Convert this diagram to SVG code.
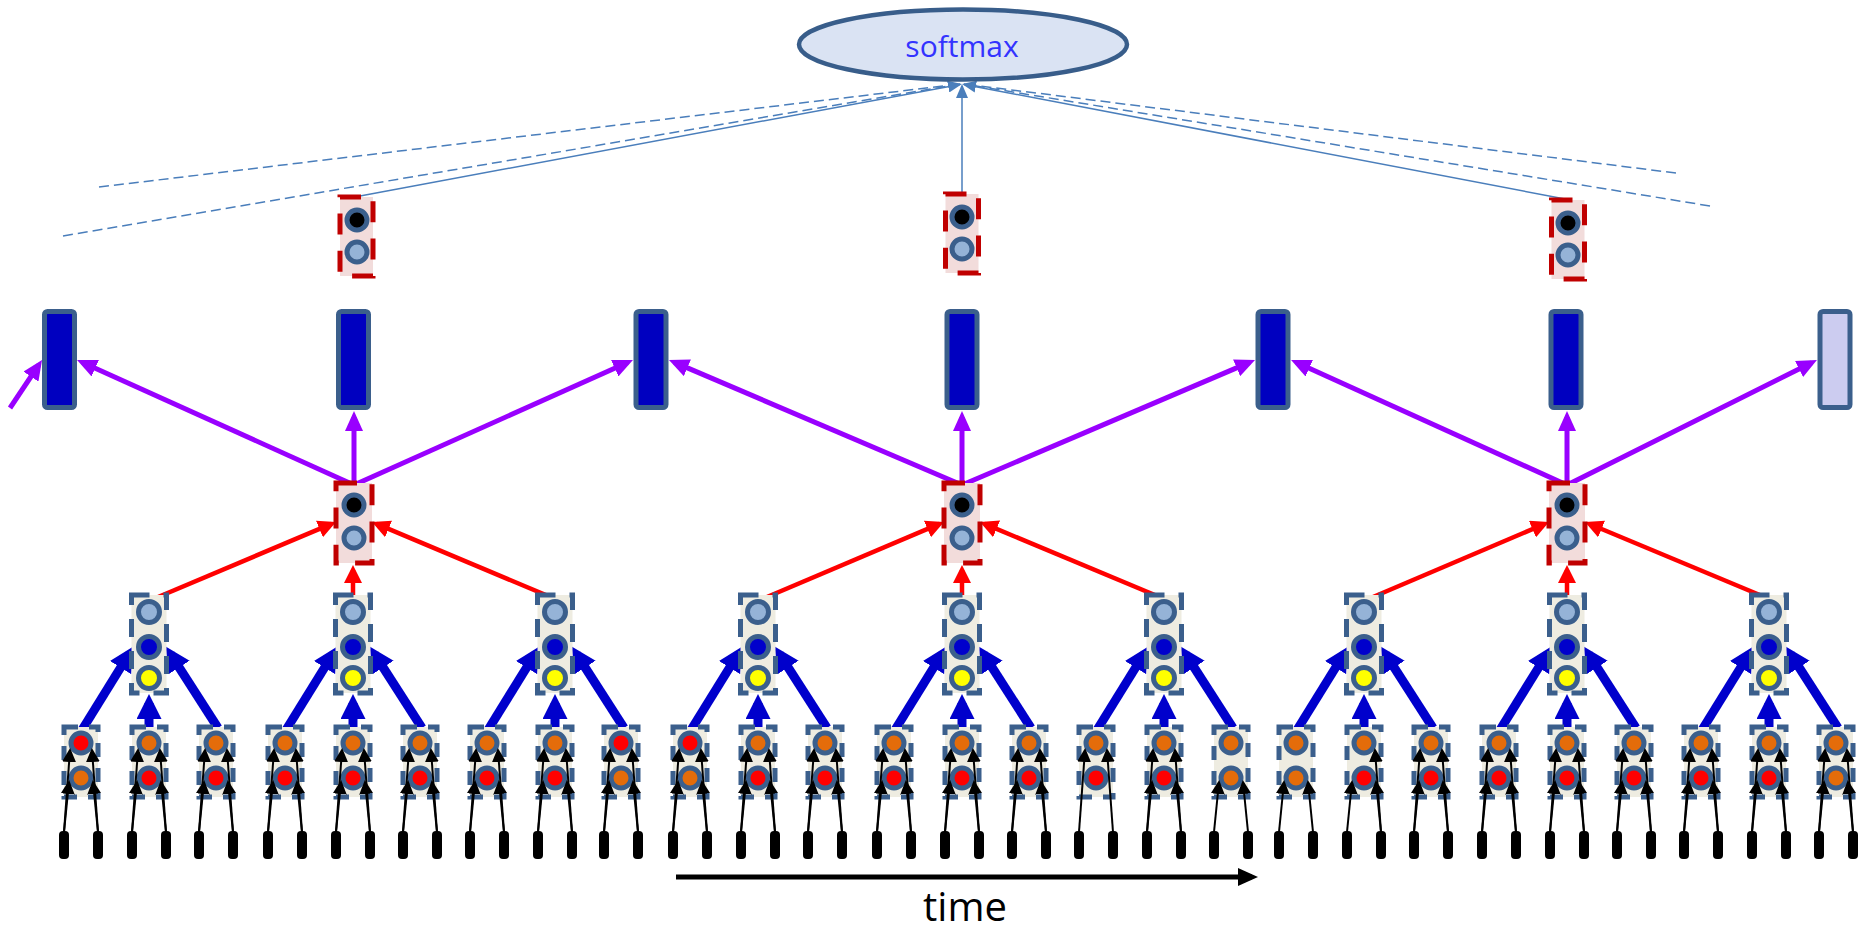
<svg xmlns="http://www.w3.org/2000/svg" width="1866" height="933" viewBox="0 0 1866 933">
<style>
.b1{fill:#eeece1;stroke:#3b5f8c;stroke-width:5;stroke-dasharray:14 11}
.b2{fill:#eeece1;stroke:#3b5f8c;stroke-width:5;stroke-dasharray:18 14}
.pk{fill:#f2dcdb;stroke:#c00000;stroke-width:5;stroke-dasharray:21 16.3}
.c{stroke:#3b5f8c;stroke-width:5}
.or{fill:#e46c0a}.rd{fill:#ff0000}.lb{fill:#95b3d7}.db{fill:#0000cc}.ye{fill:#ffff00}.bk{fill:#000}
.bar{fill:#000}
.rb{fill:#0000c0;stroke:#3b5f8c;stroke-width:5}
.rl{fill:#ccccf0;stroke:#3b5f8c;stroke-width:5}
.ak{stroke:#000;stroke-width:2;marker-end:url(#mk)}
.ab{stroke:#0000cc;stroke-width:9;marker-end:url(#mb)}
.ar{stroke:#ff0000;stroke-width:4.5;marker-end:url(#mr)}
.ap{stroke:#9900ff;stroke-width:5;marker-end:url(#mp)}
.as{stroke:#4a7ebb;stroke-width:1.5;marker-end:url(#ms)}
.ad{stroke:#4a7ebb;stroke-width:1.5;stroke-dasharray:10 5;fill:none}
.at{stroke:#000;stroke-width:5;marker-end:url(#mt)}
</style>
<defs>
<marker id="mk" markerUnits="userSpaceOnUse" viewBox="0 0 14 14" markerWidth="14" markerHeight="14" refX="12" refY="7" orient="auto"><path d="M0,0 L14,7 L0,14 z" fill="#000"/></marker>
<marker id="mb" markerUnits="userSpaceOnUse" viewBox="0 0 25 25" markerWidth="25" markerHeight="25" refX="16" refY="12.5" orient="auto"><path d="M0,0 L25,12.5 L0,25 z" fill="#0000cc"/></marker>
<marker id="mr" markerUnits="userSpaceOnUse" viewBox="0 0 18 18" markerWidth="18" markerHeight="18" refX="13" refY="9" orient="auto"><path d="M0,0 L18,9 L0,18 z" fill="#ff0000"/></marker>
<marker id="mp" markerUnits="userSpaceOnUse" viewBox="0 0 20 18" markerWidth="20" markerHeight="18" refX="14" refY="9" orient="auto"><path d="M0,0 L20,9 L0,18 z" fill="#9900ff"/></marker>
<marker id="ms" markerUnits="userSpaceOnUse" viewBox="0 0 14 12" markerWidth="14" markerHeight="12" refX="12" refY="6" orient="auto"><path d="M0,0 L14,6 L0,12 z" fill="#4a7ebb"/></marker>
<marker id="mt" markerUnits="userSpaceOnUse" viewBox="0 0 20 18" markerWidth="20" markerHeight="18" refX="14" refY="9" orient="auto"><path d="M0,0 L20,9 L0,18 z" fill="#000"/></marker>
</defs>
<rect width="1866" height="933" fill="#fff"/>

<g id="connectors">
  <line class="ad" x1="99" y1="187" x2="960" y2="84"/>
  <line class="ad" x1="63" y1="236" x2="960" y2="84"/>
  <line class="ad" x1="1676" y1="173" x2="964" y2="84"/>
  <line class="ad" x1="1710" y1="206" x2="964" y2="84"/>
  <line class="as" x1="360" y1="196" x2="960" y2="84.4"/>
  <line class="as" x1="962" y1="194" x2="962" y2="86"/>
  <line class="as" x1="1565" y1="199" x2="964" y2="84.4"/>
  <line class="ap" x1="10" y1="408" x2="38.7" y2="365"/>
  <line class="ap" x1="354" y1="485" x2="82.5" y2="362.5"/>
  <line class="ap" x1="354" y1="485" x2="354" y2="417"/>
  <line class="ap" x1="354" y1="485" x2="627.5" y2="362.5"/>
  <line class="ap" x1="962" y1="485" x2="674.5" y2="362.4"/>
  <line class="ap" x1="962" y1="485" x2="962" y2="417"/>
  <line class="ap" x1="962" y1="485" x2="1249.5" y2="362.4"/>
  <line class="ap" x1="1567" y1="485" x2="1296.5" y2="362.5"/>
  <line class="ap" x1="1567" y1="485" x2="1567" y2="417"/>
  <line class="ap" x1="1567" y1="485" x2="1811.6" y2="362.7"/>
  <line class="ar" x1="151" y1="600" x2="331.4" y2="523.9"/>
  <line class="ar" x1="353" y1="597" x2="353" y2="570"/>
  <line class="ar" x1="553" y1="598" x2="376.6" y2="523.9"/>
  <line class="ar" x1="760" y1="600" x2="939.4" y2="523.9"/>
  <line class="ar" x1="962" y1="597" x2="962" y2="570"/>
  <line class="ar" x1="1162" y1="598" x2="984.6" y2="523.9"/>
  <line class="ar" x1="1366" y1="600" x2="1544.4" y2="524"/>
  <line class="ar" x1="1567" y1="597" x2="1567" y2="570"/>
  <line class="ar" x1="1767" y1="598" x2="1589.6" y2="524"/>
  <g class="ab" transform="translate(149 0)"><line x1="-72" y1="738" x2="-20" y2="654"/><line x1="0" y1="727" x2="0" y2="703"/><line x1="69" y1="728" x2="21.5" y2="654"/></g>
  <g class="ab" transform="translate(353 0)"><line x1="-72" y1="738" x2="-20" y2="654"/><line x1="0" y1="727" x2="0" y2="703"/><line x1="69" y1="728" x2="21.5" y2="654"/></g>
  <g class="ab" transform="translate(555 0)"><line x1="-72" y1="738" x2="-20" y2="654"/><line x1="0" y1="727" x2="0" y2="703"/><line x1="69" y1="728" x2="21.5" y2="654"/></g>
  <g class="ab" transform="translate(758 0)"><line x1="-72" y1="738" x2="-20" y2="654"/><line x1="0" y1="727" x2="0" y2="703"/><line x1="69" y1="728" x2="21.5" y2="654"/></g>
  <g class="ab" transform="translate(962 0)"><line x1="-72" y1="738" x2="-20" y2="654"/><line x1="0" y1="727" x2="0" y2="703"/><line x1="69" y1="728" x2="21.5" y2="654"/></g>
  <g class="ab" transform="translate(1164 0)"><line x1="-72" y1="738" x2="-20" y2="654"/><line x1="0" y1="727" x2="0" y2="703"/><line x1="69" y1="728" x2="21.5" y2="654"/></g>
  <g class="ab" transform="translate(1364 0)"><line x1="-72" y1="738" x2="-20" y2="654"/><line x1="0" y1="727" x2="0" y2="703"/><line x1="69" y1="728" x2="21.5" y2="654"/></g>
  <g class="ab" transform="translate(1567 0)"><line x1="-72" y1="738" x2="-20" y2="654"/><line x1="0" y1="727" x2="0" y2="703"/><line x1="69" y1="728" x2="21.5" y2="654"/></g>
  <g class="ab" transform="translate(1769 0)"><line x1="-72" y1="738" x2="-20" y2="654"/><line x1="0" y1="727" x2="0" y2="703"/><line x1="69" y1="728" x2="21.5" y2="654"/></g>
  <line class="at" x1="676" y1="877" x2="1252" y2="877"/>
</g>

<g id="softmax">
  <ellipse cx="963" cy="44.5" rx="164" ry="35" fill="#dae3f3" stroke="#385d8a" stroke-width="4.5"/>
  <text x="962" y="57" text-anchor="middle" font-family="'Open Sans', 'Liberation Sans', sans-serif" font-size="30" fill="#3333ff">softmax</text>
</g>

<g id="top1"><rect class="pk" x="340" y="197" width="33" height="79"/><circle class="c bk" cx="357" cy="220" r="10"/><circle class="c lb" cx="357" cy="252" r="10"/></g>
<g id="top2"><rect class="pk" x="945.5" y="194" width="33" height="79"/><circle class="c bk" cx="962" cy="217" r="10"/><circle class="c lb" cx="962" cy="249" r="10"/></g>
<g id="top3"><rect class="pk" x="1551.5" y="200" width="33" height="79"/><circle class="c bk" cx="1568" cy="223" r="10"/><circle class="c lb" cx="1568" cy="255" r="10"/></g>

<g id="r1"><rect class="rb" x="44.5" y="311.5" width="30" height="96" rx="3"/></g>
<g id="r2"><rect class="rb" x="338.5" y="311.5" width="30" height="96" rx="3"/></g>
<g id="r3"><rect class="rb" x="636" y="311.5" width="30" height="96" rx="3"/></g>
<g id="r4"><rect class="rb" x="947" y="311.5" width="30" height="96" rx="3"/></g>
<g id="r5"><rect class="rb" x="1258" y="311.5" width="30" height="96" rx="3"/></g>
<g id="r6"><rect class="rb" x="1551" y="311.5" width="30" height="96" rx="3"/></g>
<g id="r7"><rect class="rl" x="1820" y="311.5" width="30" height="96" rx="3"/></g>

<g id="mid1"><rect class="pk" x="336" y="483" width="36" height="80"/><circle class="c bk" cx="354" cy="505" r="10"/><circle class="c lb" cx="354" cy="538" r="10"/></g>
<g id="mid2"><rect class="pk" x="944" y="483" width="36" height="80"/><circle class="c bk" cx="962" cy="505" r="10"/><circle class="c lb" cx="962" cy="538" r="10"/></g>
<g id="mid3"><rect class="pk" x="1549" y="483" width="36" height="80"/><circle class="c bk" cx="1567" cy="505" r="10"/><circle class="c lb" cx="1567" cy="538" r="10"/></g>

<g id="l2_1" transform="translate(149 0)"><rect class="b2" x="-17.5" y="595" width="35" height="98"/><circle class="c lb" cx="0" cy="612" r="10.5"/><circle class="c db" cx="0" cy="647" r="10.5"/><circle class="c ye" cx="0" cy="678" r="10.5"/></g>
<g id="l2_2" transform="translate(353 0)"><rect class="b2" x="-17.5" y="595" width="35" height="98"/><circle class="c lb" cx="0" cy="612" r="10.5"/><circle class="c db" cx="0" cy="647" r="10.5"/><circle class="c ye" cx="0" cy="678" r="10.5"/></g>
<g id="l2_3" transform="translate(555 0)"><rect class="b2" x="-17.5" y="595" width="35" height="98"/><circle class="c lb" cx="0" cy="612" r="10.5"/><circle class="c db" cx="0" cy="647" r="10.5"/><circle class="c ye" cx="0" cy="678" r="10.5"/></g>
<g id="l2_4" transform="translate(758 0)"><rect class="b2" x="-17.5" y="595" width="35" height="98"/><circle class="c lb" cx="0" cy="612" r="10.5"/><circle class="c db" cx="0" cy="647" r="10.5"/><circle class="c ye" cx="0" cy="678" r="10.5"/></g>
<g id="l2_5" transform="translate(962 0)"><rect class="b2" x="-17.5" y="595" width="35" height="98"/><circle class="c lb" cx="0" cy="612" r="10.5"/><circle class="c db" cx="0" cy="647" r="10.5"/><circle class="c ye" cx="0" cy="678" r="10.5"/></g>
<g id="l2_6" transform="translate(1164 0)"><rect class="b2" x="-17.5" y="595" width="35" height="98"/><circle class="c lb" cx="0" cy="612" r="10.5"/><circle class="c db" cx="0" cy="647" r="10.5"/><circle class="c ye" cx="0" cy="678" r="10.5"/></g>
<g id="l2_7" transform="translate(1364 0)"><rect class="b2" x="-17.5" y="595" width="35" height="98"/><circle class="c lb" cx="0" cy="612" r="10.5"/><circle class="c db" cx="0" cy="647" r="10.5"/><circle class="c ye" cx="0" cy="678" r="10.5"/></g>
<g id="l2_8" transform="translate(1567 0)"><rect class="b2" x="-17.5" y="595" width="35" height="98"/><circle class="c lb" cx="0" cy="612" r="10.5"/><circle class="c db" cx="0" cy="647" r="10.5"/><circle class="c ye" cx="0" cy="678" r="10.5"/></g>
<g id="l2_9" transform="translate(1769 0)"><rect class="b2" x="-17.5" y="595" width="35" height="98"/><circle class="c lb" cx="0" cy="612" r="10.5"/><circle class="c db" cx="0" cy="647" r="10.5"/><circle class="c ye" cx="0" cy="678" r="10.5"/></g>

<g id="l1_01" transform="translate(81 0)"><rect class="b1" x="-17" y="727" width="34" height="70"/><circle class="c rd" cx="0" cy="743" r="10"/><circle class="c or" cx="0" cy="778" r="10"/></g>
<g id="l1_02" transform="translate(149 0)"><rect class="b1" x="-17" y="727" width="34" height="70"/><circle class="c or" cx="0" cy="743" r="10"/><circle class="c rd" cx="0" cy="778" r="10"/></g>
<g id="l1_03" transform="translate(216 0)"><rect class="b1" x="-17" y="727" width="34" height="70"/><circle class="c or" cx="0" cy="743" r="10"/><circle class="c rd" cx="0" cy="778" r="10"/></g>
<g id="l1_04" transform="translate(285 0)"><rect class="b1" x="-17" y="727" width="34" height="70"/><circle class="c or" cx="0" cy="743" r="10"/><circle class="c rd" cx="0" cy="778" r="10"/></g>
<g id="l1_05" transform="translate(353 0)"><rect class="b1" x="-17" y="727" width="34" height="70"/><circle class="c or" cx="0" cy="743" r="10"/><circle class="c rd" cx="0" cy="778" r="10"/></g>
<g id="l1_06" transform="translate(420 0)"><rect class="b1" x="-17" y="727" width="34" height="70"/><circle class="c or" cx="0" cy="743" r="10"/><circle class="c rd" cx="0" cy="778" r="10"/></g>
<g id="l1_07" transform="translate(487 0)"><rect class="b1" x="-17" y="727" width="34" height="70"/><circle class="c or" cx="0" cy="743" r="10"/><circle class="c rd" cx="0" cy="778" r="10"/></g>
<g id="l1_08" transform="translate(555 0)"><rect class="b1" x="-17" y="727" width="34" height="70"/><circle class="c or" cx="0" cy="743" r="10"/><circle class="c rd" cx="0" cy="778" r="10"/></g>
<g id="l1_09" transform="translate(621 0)"><rect class="b1" x="-17" y="727" width="34" height="70"/><circle class="c rd" cx="0" cy="743" r="10"/><circle class="c or" cx="0" cy="778" r="10"/></g>
<g id="l1_10" transform="translate(690 0)"><rect class="b1" x="-17" y="727" width="34" height="70"/><circle class="c rd" cx="0" cy="743" r="10"/><circle class="c or" cx="0" cy="778" r="10"/></g>
<g id="l1_11" transform="translate(758 0)"><rect class="b1" x="-17" y="727" width="34" height="70"/><circle class="c or" cx="0" cy="743" r="10"/><circle class="c rd" cx="0" cy="778" r="10"/></g>
<g id="l1_12" transform="translate(825 0)"><rect class="b1" x="-17" y="727" width="34" height="70"/><circle class="c or" cx="0" cy="743" r="10"/><circle class="c rd" cx="0" cy="778" r="10"/></g>
<g id="l1_13" transform="translate(894 0)"><rect class="b1" x="-17" y="727" width="34" height="70"/><circle class="c or" cx="0" cy="743" r="10"/><circle class="c rd" cx="0" cy="778" r="10"/></g>
<g id="l1_14" transform="translate(962 0)"><rect class="b1" x="-17" y="727" width="34" height="70"/><circle class="c or" cx="0" cy="743" r="10"/><circle class="c rd" cx="0" cy="778" r="10"/></g>
<g id="l1_15" transform="translate(1029 0)"><rect class="b1" x="-17" y="727" width="34" height="70"/><circle class="c or" cx="0" cy="743" r="10"/><circle class="c rd" cx="0" cy="778" r="10"/></g>
<g id="l1_16" transform="translate(1096 0)"><rect class="b1" x="-17" y="727" width="34" height="70"/><circle class="c or" cx="0" cy="743" r="10"/><circle class="c rd" cx="0" cy="778" r="10"/></g>
<g id="l1_17" transform="translate(1164 0)"><rect class="b1" x="-17" y="727" width="34" height="70"/><circle class="c or" cx="0" cy="743" r="10"/><circle class="c rd" cx="0" cy="778" r="10"/></g>
<g id="l1_18" transform="translate(1231 0)"><rect class="b1" x="-17" y="727" width="34" height="70"/><circle class="c or" cx="0" cy="743" r="10"/><circle class="c or" cx="0" cy="778" r="10"/></g>
<g id="l1_19" transform="translate(1296 0)"><rect class="b1" x="-17" y="727" width="34" height="70"/><circle class="c or" cx="0" cy="743" r="10"/><circle class="c or" cx="0" cy="778" r="10"/></g>
<g id="l1_20" transform="translate(1364 0)"><rect class="b1" x="-17" y="727" width="34" height="70"/><circle class="c or" cx="0" cy="743" r="10"/><circle class="c rd" cx="0" cy="778" r="10"/></g>
<g id="l1_21" transform="translate(1431 0)"><rect class="b1" x="-17" y="727" width="34" height="70"/><circle class="c or" cx="0" cy="743" r="10"/><circle class="c rd" cx="0" cy="778" r="10"/></g>
<g id="l1_22" transform="translate(1499 0)"><rect class="b1" x="-17" y="727" width="34" height="70"/><circle class="c or" cx="0" cy="743" r="10"/><circle class="c rd" cx="0" cy="778" r="10"/></g>
<g id="l1_23" transform="translate(1567 0)"><rect class="b1" x="-17" y="727" width="34" height="70"/><circle class="c or" cx="0" cy="743" r="10"/><circle class="c rd" cx="0" cy="778" r="10"/></g>
<g id="l1_24" transform="translate(1634 0)"><rect class="b1" x="-17" y="727" width="34" height="70"/><circle class="c or" cx="0" cy="743" r="10"/><circle class="c rd" cx="0" cy="778" r="10"/></g>
<g id="l1_25" transform="translate(1701 0)"><rect class="b1" x="-17" y="727" width="34" height="70"/><circle class="c or" cx="0" cy="743" r="10"/><circle class="c rd" cx="0" cy="778" r="10"/></g>
<g id="l1_26" transform="translate(1769 0)"><rect class="b1" x="-17" y="727" width="34" height="70"/><circle class="c or" cx="0" cy="743" r="10"/><circle class="c rd" cx="0" cy="778" r="10"/></g>
<g id="l1_27" transform="translate(1836 0)"><rect class="b1" x="-17" y="727" width="34" height="70"/><circle class="c or" cx="0" cy="743" r="10"/><circle class="c or" cx="0" cy="778" r="10"/></g>

<g id="input-arrows">
  <g class="ak" transform="translate(81 0)"><line x1="-17" y1="832" x2="-11" y2="750"/><line x1="-17" y1="832" x2="-12" y2="782"/><line x1="17" y1="832" x2="11" y2="750"/><line x1="17" y1="832" x2="12" y2="782"/></g>
  <g class="ak" transform="translate(149 0)"><line x1="-17" y1="832" x2="-11" y2="750"/><line x1="-17" y1="832" x2="-12" y2="782"/><line x1="17" y1="832" x2="11" y2="750"/><line x1="17" y1="832" x2="12" y2="782"/></g>
  <g class="ak" transform="translate(216 0)"><line x1="-17" y1="832" x2="-11" y2="750"/><line x1="-17" y1="832" x2="-12" y2="782"/><line x1="17" y1="832" x2="11" y2="750"/><line x1="17" y1="832" x2="12" y2="782"/></g>
  <g class="ak" transform="translate(285 0)"><line x1="-17" y1="832" x2="-11" y2="750"/><line x1="-17" y1="832" x2="-12" y2="782"/><line x1="17" y1="832" x2="11" y2="750"/><line x1="17" y1="832" x2="12" y2="782"/></g>
  <g class="ak" transform="translate(353 0)"><line x1="-17" y1="832" x2="-11" y2="750"/><line x1="-17" y1="832" x2="-12" y2="782"/><line x1="17" y1="832" x2="11" y2="750"/><line x1="17" y1="832" x2="12" y2="782"/></g>
  <g class="ak" transform="translate(420 0)"><line x1="-17" y1="832" x2="-11" y2="750"/><line x1="-17" y1="832" x2="-12" y2="782"/><line x1="17" y1="832" x2="11" y2="750"/><line x1="17" y1="832" x2="12" y2="782"/></g>
  <g class="ak" transform="translate(487 0)"><line x1="-17" y1="832" x2="-11" y2="750"/><line x1="-17" y1="832" x2="-12" y2="782"/><line x1="17" y1="832" x2="11" y2="750"/><line x1="17" y1="832" x2="12" y2="782"/></g>
  <g class="ak" transform="translate(555 0)"><line x1="-17" y1="832" x2="-11" y2="750"/><line x1="-17" y1="832" x2="-12" y2="782"/><line x1="17" y1="832" x2="11" y2="750"/><line x1="17" y1="832" x2="12" y2="782"/></g>
  <g class="ak" transform="translate(621 0)"><line x1="-17" y1="832" x2="-11" y2="750"/><line x1="-17" y1="832" x2="-12" y2="782"/><line x1="17" y1="832" x2="11" y2="750"/><line x1="17" y1="832" x2="12" y2="782"/></g>
  <g class="ak" transform="translate(690 0)"><line x1="-17" y1="832" x2="-11" y2="750"/><line x1="-17" y1="832" x2="-12" y2="782"/><line x1="17" y1="832" x2="11" y2="750"/><line x1="17" y1="832" x2="12" y2="782"/></g>
  <g class="ak" transform="translate(758 0)"><line x1="-17" y1="832" x2="-11" y2="750"/><line x1="-17" y1="832" x2="-12" y2="782"/><line x1="17" y1="832" x2="11" y2="750"/><line x1="17" y1="832" x2="12" y2="782"/></g>
  <g class="ak" transform="translate(825 0)"><line x1="-17" y1="832" x2="-11" y2="750"/><line x1="-17" y1="832" x2="-12" y2="782"/><line x1="17" y1="832" x2="11" y2="750"/><line x1="17" y1="832" x2="12" y2="782"/></g>
  <g class="ak" transform="translate(894 0)"><line x1="-17" y1="832" x2="-11" y2="750"/><line x1="-17" y1="832" x2="-12" y2="782"/><line x1="17" y1="832" x2="11" y2="750"/><line x1="17" y1="832" x2="12" y2="782"/></g>
  <g class="ak" transform="translate(962 0)"><line x1="-17" y1="832" x2="-11" y2="750"/><line x1="-17" y1="832" x2="-12" y2="782"/><line x1="17" y1="832" x2="11" y2="750"/><line x1="17" y1="832" x2="12" y2="782"/></g>
  <g class="ak" transform="translate(1029 0)"><line x1="-17" y1="832" x2="-11" y2="750"/><line x1="-17" y1="832" x2="-12" y2="782"/><line x1="17" y1="832" x2="11" y2="750"/><line x1="17" y1="832" x2="12" y2="782"/></g>
  <g class="ak" transform="translate(1096 0)"><line x1="-17" y1="832" x2="-11" y2="750"/><line x1="17" y1="832" x2="11" y2="750"/></g>
  <g class="ak" transform="translate(1164 0)"><line x1="-17" y1="832" x2="-11" y2="750"/><line x1="-17" y1="832" x2="-12" y2="782"/><line x1="17" y1="832" x2="11" y2="750"/><line x1="17" y1="832" x2="12" y2="782"/></g>
  <g class="ak" transform="translate(1231 0)"><line x1="-17" y1="832" x2="-12" y2="782"/><line x1="17" y1="832" x2="12" y2="782"/></g>
  <g class="ak" transform="translate(1296 0)"><line x1="-17" y1="832" x2="-12" y2="782"/><line x1="17" y1="832" x2="12" y2="782"/></g>
  <g class="ak" transform="translate(1364 0)"><line x1="-17" y1="832" x2="-12" y2="782"/><line x1="17" y1="832" x2="11" y2="750"/><line x1="17" y1="832" x2="12" y2="782"/></g>
  <g class="ak" transform="translate(1431 0)"><line x1="-17" y1="832" x2="-11" y2="750"/><line x1="-17" y1="832" x2="-12" y2="782"/><line x1="17" y1="832" x2="11" y2="750"/><line x1="17" y1="832" x2="12" y2="782"/></g>
  <g class="ak" transform="translate(1499 0)"><line x1="-17" y1="832" x2="-11" y2="750"/><line x1="-17" y1="832" x2="-12" y2="782"/><line x1="17" y1="832" x2="11" y2="750"/><line x1="17" y1="832" x2="12" y2="782"/></g>
  <g class="ak" transform="translate(1567 0)"><line x1="-17" y1="832" x2="-11" y2="750"/><line x1="-17" y1="832" x2="-12" y2="782"/><line x1="17" y1="832" x2="11" y2="750"/><line x1="17" y1="832" x2="12" y2="782"/></g>
  <g class="ak" transform="translate(1634 0)"><line x1="-17" y1="832" x2="-11" y2="750"/><line x1="-17" y1="832" x2="-12" y2="782"/><line x1="17" y1="832" x2="11" y2="750"/><line x1="17" y1="832" x2="12" y2="782"/></g>
  <g class="ak" transform="translate(1701 0)"><line x1="-17" y1="832" x2="-11" y2="750"/><line x1="-17" y1="832" x2="-12" y2="782"/><line x1="17" y1="832" x2="11" y2="750"/><line x1="17" y1="832" x2="12" y2="782"/></g>
  <g class="ak" transform="translate(1769 0)"><line x1="-17" y1="832" x2="-11" y2="750"/><line x1="-17" y1="832" x2="-12" y2="782"/><line x1="17" y1="832" x2="11" y2="750"/><line x1="17" y1="832" x2="12" y2="782"/></g>
  <g class="ak" transform="translate(1836 0)"><line x1="-17" y1="832" x2="-11" y2="750"/><line x1="-17" y1="832" x2="-12" y2="782"/><line x1="17" y1="832" x2="11" y2="750"/><line x1="17" y1="832" x2="12" y2="782"/></g>
</g>

<g id="inputs" class="bar">
  <g id="in01"><rect x="59" y="831" width="10" height="28" rx="4"/><rect x="93" y="831" width="10" height="28" rx="4"/></g>
  <g id="in02"><rect x="127" y="831" width="10" height="28" rx="4"/><rect x="161" y="831" width="10" height="28" rx="4"/></g>
  <g id="in03"><rect x="194" y="831" width="10" height="28" rx="4"/><rect x="228" y="831" width="10" height="28" rx="4"/></g>
  <g id="in04"><rect x="263" y="831" width="10" height="28" rx="4"/><rect x="297" y="831" width="10" height="28" rx="4"/></g>
  <g id="in05"><rect x="331" y="831" width="10" height="28" rx="4"/><rect x="365" y="831" width="10" height="28" rx="4"/></g>
  <g id="in06"><rect x="398" y="831" width="10" height="28" rx="4"/><rect x="432" y="831" width="10" height="28" rx="4"/></g>
  <g id="in07"><rect x="465" y="831" width="10" height="28" rx="4"/><rect x="499" y="831" width="10" height="28" rx="4"/></g>
  <g id="in08"><rect x="533" y="831" width="10" height="28" rx="4"/><rect x="567" y="831" width="10" height="28" rx="4"/></g>
  <g id="in09"><rect x="599" y="831" width="10" height="28" rx="4"/><rect x="633" y="831" width="10" height="28" rx="4"/></g>
  <g id="in10"><rect x="668" y="831" width="10" height="28" rx="4"/><rect x="702" y="831" width="10" height="28" rx="4"/></g>
  <g id="in11"><rect x="736" y="831" width="10" height="28" rx="4"/><rect x="770" y="831" width="10" height="28" rx="4"/></g>
  <g id="in12"><rect x="803" y="831" width="10" height="28" rx="4"/><rect x="837" y="831" width="10" height="28" rx="4"/></g>
  <g id="in13"><rect x="872" y="831" width="10" height="28" rx="4"/><rect x="906" y="831" width="10" height="28" rx="4"/></g>
  <g id="in14"><rect x="940" y="831" width="10" height="28" rx="4"/><rect x="974" y="831" width="10" height="28" rx="4"/></g>
  <g id="in15"><rect x="1007" y="831" width="10" height="28" rx="4"/><rect x="1041" y="831" width="10" height="28" rx="4"/></g>
  <g id="in16"><rect x="1074" y="831" width="10" height="28" rx="4"/><rect x="1108" y="831" width="10" height="28" rx="4"/></g>
  <g id="in17"><rect x="1142" y="831" width="10" height="28" rx="4"/><rect x="1176" y="831" width="10" height="28" rx="4"/></g>
  <g id="in18"><rect x="1209" y="831" width="10" height="28" rx="4"/><rect x="1243" y="831" width="10" height="28" rx="4"/></g>
  <g id="in19"><rect x="1274" y="831" width="10" height="28" rx="4"/><rect x="1308" y="831" width="10" height="28" rx="4"/></g>
  <g id="in20"><rect x="1342" y="831" width="10" height="28" rx="4"/><rect x="1376" y="831" width="10" height="28" rx="4"/></g>
  <g id="in21"><rect x="1409" y="831" width="10" height="28" rx="4"/><rect x="1443" y="831" width="10" height="28" rx="4"/></g>
  <g id="in22"><rect x="1477" y="831" width="10" height="28" rx="4"/><rect x="1511" y="831" width="10" height="28" rx="4"/></g>
  <g id="in23"><rect x="1545" y="831" width="10" height="28" rx="4"/><rect x="1579" y="831" width="10" height="28" rx="4"/></g>
  <g id="in24"><rect x="1612" y="831" width="10" height="28" rx="4"/><rect x="1646" y="831" width="10" height="28" rx="4"/></g>
  <g id="in25"><rect x="1679" y="831" width="10" height="28" rx="4"/><rect x="1713" y="831" width="10" height="28" rx="4"/></g>
  <g id="in26"><rect x="1747" y="831" width="10" height="28" rx="4"/><rect x="1781" y="831" width="10" height="28" rx="4"/></g>
  <g id="in27"><rect x="1814" y="831" width="10" height="28" rx="4"/><rect x="1848" y="831" width="10" height="28" rx="4"/></g>
</g>

<g id="time-label">
  <text x="965" y="921" text-anchor="middle" font-family="'Open Sans', 'Liberation Sans', sans-serif" font-size="40" fill="#000">time</text>
</g>
</svg>
